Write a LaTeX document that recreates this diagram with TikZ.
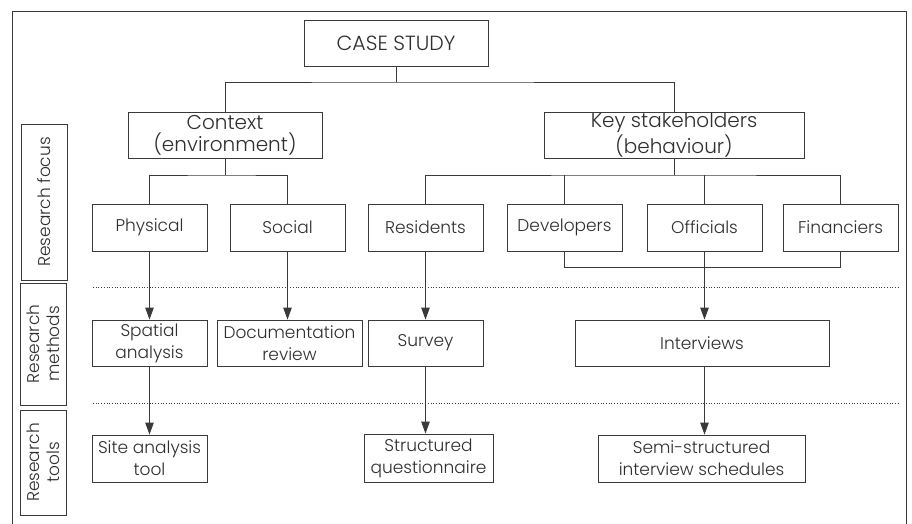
\documentclass[tikz,border=0pt]{standalone}
\usepackage{fontspec}
\IfFontExistsTF{Poppins Light}{\setmainfont{Poppins Light}}{\setmainfont{Poppins}}
\usetikzlibrary{arrows.meta}
\definecolor{ln}{HTML}{3A3A3A}
\definecolor{tx}{HTML}{2E2E2E}
\tikzset{
  box/.style={draw=ln, line width=0.9pt, inner sep=0pt, align=center, text=tx, font=\fontsize{17}{22}\selectfont},
  big/.style={box, font=\fontsize{20}{23}\selectfont},
  side/.style={box, rotate=90, font=\fontsize{17}{20}\selectfont},
  conn/.style={draw=ln, line width=0.9pt},
  arr/.style={conn, -{Triangle[length=12pt,width=8.5pt]}},
  sep/.style={draw=ln, line width=0.7pt, dotted}
}
\begin{document}
\begin{tikzpicture}[x=1pt,y=-1pt]
\useasboundingbox (0,0) rectangle (912,524);
\draw[conn] (12,524) -- (12,11) -- (906,11) -- (906,524);
% dotted separators
\coordinate (s1a) at (93,287); \coordinate (s1b) at (898,287);
\coordinate (s2a) at (93,403); \coordinate (s2b) at (898,403);
\draw[sep] (s1a) -- (s1b);
\draw[sep] (s2a) -- (s2b);
% side labels
\node[side, minimum width=156pt, minimum height=46pt] (lf) at (44,202) {Research focus};
\node[side, minimum width=122pt, minimum height=46pt] (lm) at (43,344) {Research\\methods};
\node[side, minimum width=105pt, minimum height=46pt] (lt) at (43,462.5) {Research\\tools};
% boxes
\node[big, minimum width=184pt, minimum height=46pt, font=\fontsize{20.5}{22}\selectfont] (case) at (396,43) {CASE STUDY};
\node[big, minimum width=194pt, minimum height=46pt] (ctx) at (225,135) {\raisebox{-3pt}{\shortstack{Context\\[0pt](environment)}}};
\node[big, minimum width=260pt, minimum height=46pt] (key) at (674,135) {\raisebox{-3pt}{\shortstack{Key stakeholders\\[0pt](behaviour)}}};
\node[box, minimum width=115pt, minimum height=47pt] (phys) at (149.5,227.5) {Physical};
\node[box, minimum width=115pt, minimum height=47pt] (soc) at (287.5,227.5) {Social};
\node[box, minimum width=115pt, minimum height=47pt] (res) at (425.5,227.5) {Residents};
\node[box, minimum width=115pt, minimum height=47pt] (dev) at (564.5,227.5) {Developers};
\node[box, minimum width=115pt, minimum height=47pt] (off) at (704.5,227.5) {Officials};
\node[box, minimum width=115pt, minimum height=47pt] (fin) at (840.5,227.5) {Financiers};
\node[box, minimum width=115pt, minimum height=46pt] (spa) at (149.5,343) {Spatial\\analysis};
\node[box, minimum width=145pt, minimum height=46pt] (doc) at (289.5,343) {Documentation\\review};
\node[box, minimum width=115pt, minimum height=46pt] (sur) at (425.5,343) {Survey};
\node[box, minimum width=254pt, minimum height=46pt] (int) at (702,343) {Interviews};
\node[box, minimum width=115pt, minimum height=47pt] (site) at (149.5,458.5) {Site analysis\\tool};
\node[box, minimum width=129pt, minimum height=48pt] (sq) at (428.5,458) {Structured\\questionnaire};
\node[box, minimum width=207pt, minimum height=47pt] (semi) at (701.5,458.5) {Semi-structured\\interview schedules};
% tree connectors
\coordinate (j0) at (396,82);
\draw[conn] (case.south) -- (j0);
\draw[conn] (ctx.north) |- (j0) -| (key.north);
\coordinate (j1) at (225,175);
\draw[conn] (ctx.south) -- (j1);
\draw[conn] (phys.north) |- (j1) -| (soc.north);
\coordinate (j2) at (674,175);
\draw[conn] (key.south) -- (j2);
\draw[conn] (res.north) |- (j2) -| (fin.north);
\draw[conn] (dev.north) -- (dev.north |- j2);
\draw[conn] (off.north) -- (off.north |- j2);
\draw[conn] (dev.south) -- ++(0,16) -| (fin.south);
% arrows
\draw[arr] (phys.south) -- (spa.north);
\draw[arr] (soc.south) -- (soc.south |- doc.north);
\draw[arr] (res.south) -- (sur.north);
\draw[arr] (off.south) -- (off.south |- int.north);
\draw[arr] (spa.south) -- (site.north);
\draw[arr] (sur.south) -- (sur.south |- sq.north);
\draw[arr] (int.south -| off.south) -- (off.south |- semi.north);
\end{tikzpicture}
\end{document}
